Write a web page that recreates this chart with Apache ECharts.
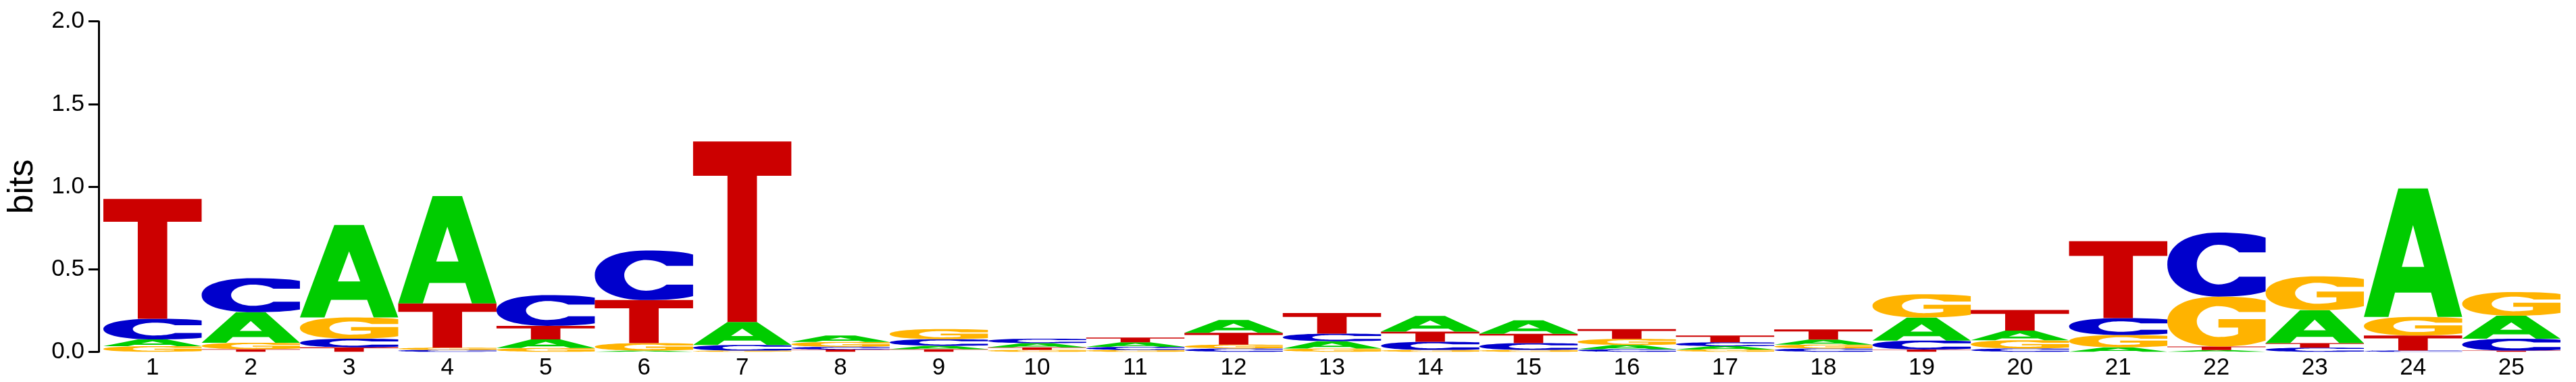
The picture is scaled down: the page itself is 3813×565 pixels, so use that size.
<!DOCTYPE html>
<html><head><meta charset="utf-8">
<script src="https://cdn.jsdelivr.net/npm/echarts@6/dist/echarts.min.js"></script>
<style>html,body{margin:0;padding:0;background:#fff}#c{width:3813px;height:565px}</style>
</head><body><div id="c"></div>
<script>
// ---- data (bits per letter at each position) ----
const positions = ['1','2','3','4','5','6','7','8','9','10','11','12','13','14','15','16','17','18','19','20','21','22','23','24','25'];
const bitsA = [0.041,0.186,0.560,0.650,0.052,0.007,0.139,0.038,0.020,0.025,0.027,0.078,0.044,0.095,0.082,0.025,0.020,0.031,0.139,0.058,0.027,0.010,0.200,0.778,0.139];
const bitsC = [0.125,0.205,0.052,0.011,0.186,0.300,0.034,0.016,0.040,0.027,0.019,0.020,0.046,0.050,0.041,0.016,0.023,0.020,0.054,0.020,0.102,0.388,0.025,0.007,0.072];
const bitsG = [0.034,0.038,0.129,0.014,0.023,0.045,0.007,0.030,0.061,0.011,0.011,0.023,0.020,0.011,0.011,0.037,0.014,0.023,0.141,0.050,0.075,0.302,0.205,0.113,0.143];
const bitsT = [0.725,0.016,0.027,0.268,0.082,0.261,1.093,0.014,0.016,0.016,0.029,0.072,0.125,0.061,0.057,0.059,0.041,0.061,0.014,0.125,0.465,0.022,0.027,0.091,0.007];
const yTicks = [0, 0.5, 1.0, 1.5, 2.0];
const letters = ['A','C','G','T'];

// ---- glyphs & colours ----
const GLYPH = {
  A: 'M0 100 L35 0 L65 0 L100 100 L75 100 L68.35 81 L31.65 81 L25 100 Z M50 28.6 L38.65 61 L61.35 61 Z',
  C: 'M100 31 L100 8 C88 2 72 0 52 0 C20 0 0 20 0 50 C0 80 20 100 52 100 C72 100 88 98 100 92 L100 69 L73 69 C69 76 61 81 52 81 C40 81 30 67 30 50 C30 33 40 19 52 19 C61 19 69 24 73 31 Z',
  G: 'M100 31 L100 8 C88 2 72 0 52 0 C20 0 0 20 0 50 C0 80 20 100 52 100 C72 100 88 96 100 88 L100 45 L52 45 L52 62 L72 62 L72 75 C68 79 60 81 52 81 C40 81 30 67 30 50 C30 33 40 19 52 19 C61 19 69 24 73 31 Z',
  T: 'M0 0 L100 0 L100 19 L65 19 L65 100 L35 100 L35 19 L0 19 Z'
};
const COLORS = { A: '#00CC00', C: '#0000CC', G: '#FFB300', T: '#CC0000' };

const data = positions.map((p, i) => [i, bitsA[i], bitsC[i], bitsG[i], bitsT[i]]);

function renderItem(params, api) {
  const i = api.value(0);
  const vals = letters.map((L, k) => ({ L, h: api.value(k + 1) }));
  vals.sort((a, b) => a.h - b.h);
  const bw = api.size([1, 0])[0];
  const cx = api.coord([i, 0])[0];
  let cum = 0;
  const children = [];
  for (const v of vals) {
    const yb = api.coord([i, cum])[1];
    const yt = api.coord([i, cum + v.h])[1];
    cum += v.h;
    const h = yb - yt;
    if (h <= 0) continue;
    children.push({
      type: 'path',
      shape: { pathData: GLYPH[v.L], x: cx - bw / 2, y: yt, width: bw, height: h, layout: 'cover' },
      style: { fill: COLORS[v.L], stroke: null }
    });
  }
  return { type: 'group', children };
}

const FONT = 'Liberation Sans, Arial, sans-serif';
const chart = echarts.init(document.getElementById('c'), null, { renderer: 'canvas' });
chart.setOption({
  animation: false,
  backgroundColor: '#ffffff',
  grid: { left: 153, right: 23, top: 31.7, bottom: 44.7, containLabel: false },
  xAxis: {
    type: 'category', data: positions, boundaryGap: true,
    axisLine: { show: false }, axisTick: { show: false }, splitLine: { show: false },
    axisLabel: { fontSize: 35, color: '#000', fontFamily: FONT, margin: 7 }
  },
  yAxis: {
    type: 'value', min: yTicks[0], max: yTicks[yTicks.length - 1], interval: 0.5, offset: 7,
    name: 'bits', nameLocation: 'middle', nameGap: 86,
    nameTextStyle: { fontSize: 52, color: '#000', fontFamily: FONT },
    axisLine: { show: true, lineStyle: { color: '#000', width: 3 } },
    axisTick: { show: true, length: 15, lineStyle: { color: '#000', width: 3 } },
    splitLine: { show: false },
    axisLabel: { fontSize: 35, color: '#000', fontFamily: FONT, margin: 21, formatter: v => v.toFixed(1) }
  },
  series: [{ type: 'custom', renderItem, data, encode: { x: 0, y: [1, 2, 3, 4] }, clip: false }]
});
</script></body></html>
